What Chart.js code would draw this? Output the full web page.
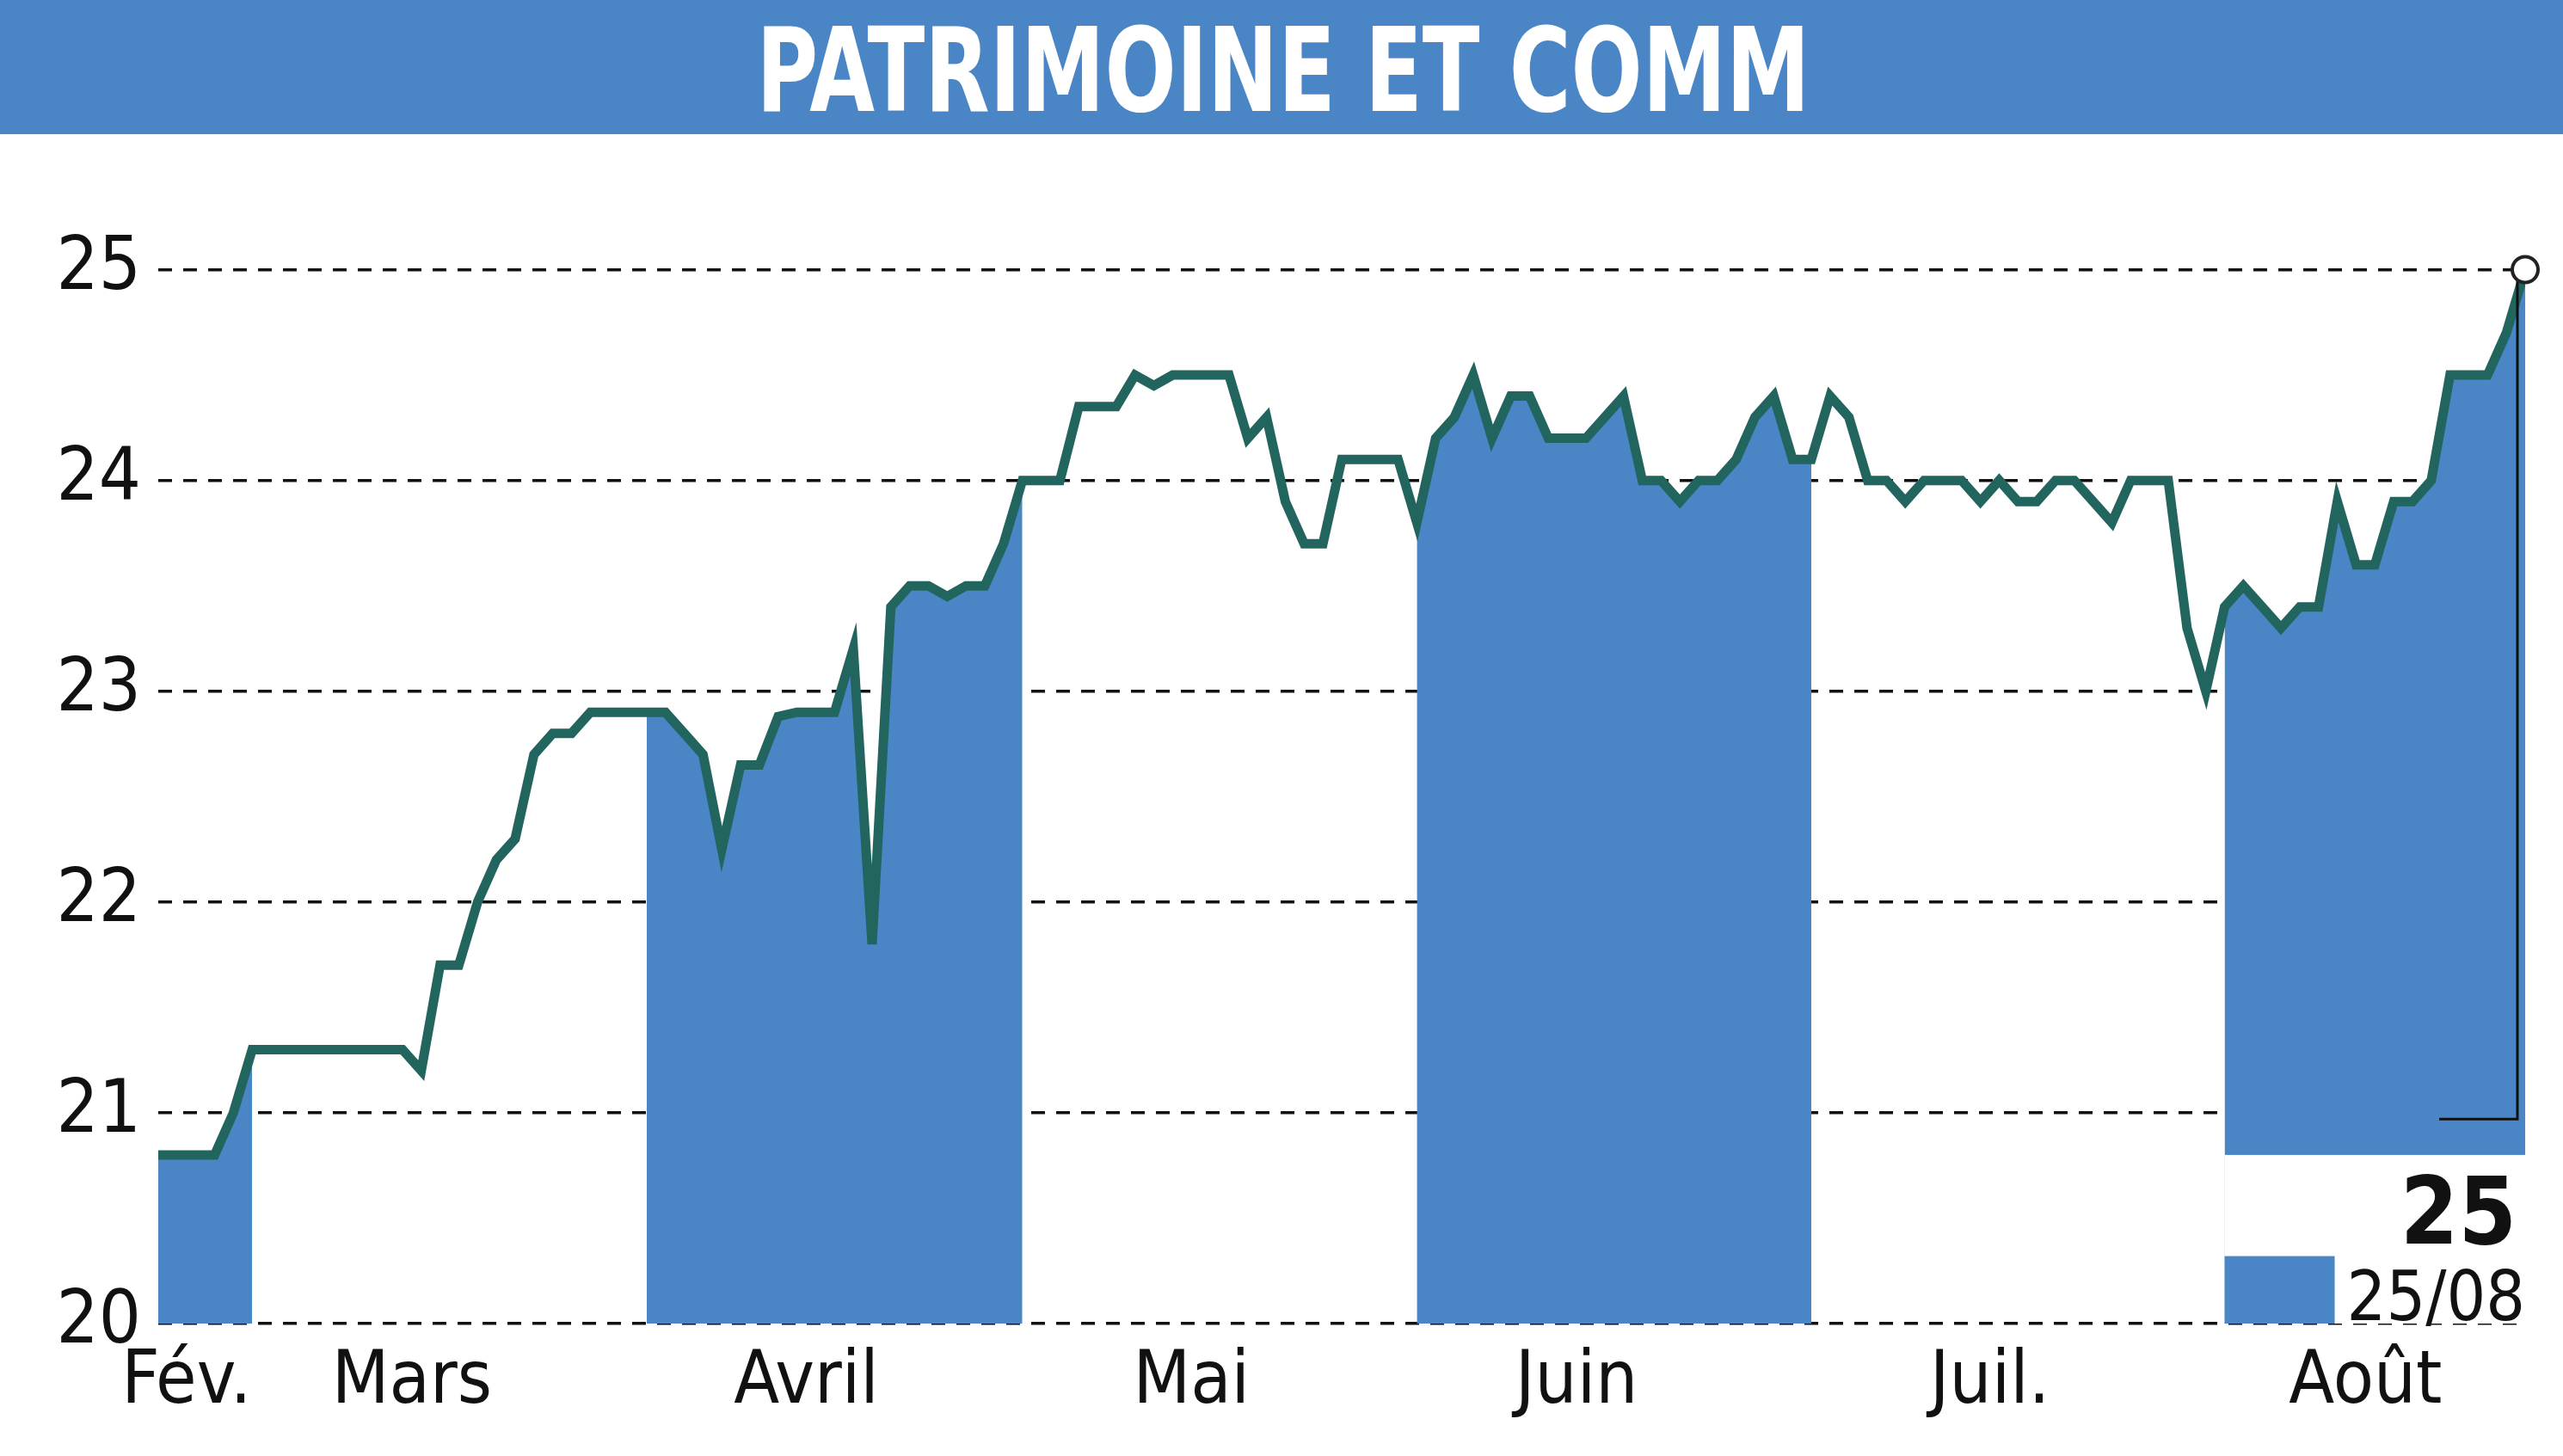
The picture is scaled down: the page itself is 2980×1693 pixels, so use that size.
<!DOCTYPE html>
<html><head><meta charset="utf-8">
<script src="https://cdn.jsdelivr.net/npm/chart.js@4/dist/chart.umd.min.js"></script>
<style>html,body{margin:0;padding:0;background:#fff}#wrap{width:2980px;height:1693px}</style>
</head><body><div id="wrap"><canvas id="c"></canvas></div>
<script>
const title = "PATRIMOINE ET COMM";
const prices = [20.8,20.8,20.8,20.8,21.0,21.3,21.3,21.3,21.3,21.3,21.3,21.3,21.3,21.3,21.2,21.7,21.7,22.0,22.2,22.3,22.7,22.8,22.8,22.9,22.9,22.9,22.9,22.9,22.8,22.7,22.25,22.65,22.65,22.88,22.9,22.9,22.9,23.2,21.8,23.4,23.5,23.5,23.45,23.5,23.5,23.7,24.0,24.0,24.0,24.35,24.35,24.35,24.5,24.45,24.5,24.5,24.5,24.5,24.2,24.3,23.9,23.7,23.7,24.1,24.1,24.1,24.1,23.8,24.2,24.3,24.5,24.2,24.4,24.4,24.2,24.2,24.2,24.3,24.4,24.0,24.0,23.9,24.0,24.0,24.1,24.3,24.4,24.1,24.1,24.4,24.3,24.0,24.0,23.9,24.0,24.0,24.0,23.9,24.0,23.9,23.9,24.0,24.0,23.9,23.8,24.0,24.0,24.0,23.3,23.0,23.4,23.5,23.4,23.3,23.4,23.4,23.9,23.6,23.6,23.9,23.9,24.0,24.5,24.5,24.5,24.7,25.0];
const shadedRanges = [[0,5],[26,46],[67,88],[110,126]];
const monthNames = ["Fév.","Mars","Avril","Mai","Juin","Juil.","Août"];
const monthPos = [1.5,13.5,34.5,55,75.5,97.5,117.5];
const yTicks = [20,21,22,23,24,25];
const lastValue = "25", lastDate = "25/08";

const FONT = "'Liberation Sans Narrow','DejaVu Sans Condensed',sans-serif";
const lineData = prices.map((v,i)=>({x:i,y:v}));
const shadeData = prices.map((v,i)=>({x:i,y: shadedRanges.some(r=>i>=r[0]&&i<=r[1]) ? v : null}));
const BLUE = "#4a86c5", LINE = "#22655f";

const deco = {
  id:'deco',
  beforeDraw(ch){
    const c=ch.ctx; c.save();
    c.fillStyle=BLUE; c.fillRect(0,0,2980,156);
    c.translate(1492,82); c.scale(0.8,1);
    c.fillStyle="#fff"; c.font="bold 136px "+FONT; c.textAlign="center"; c.textBaseline="middle";
    c.fillText(title,0,12);
    c.restore();
  },
  afterDatasetsDraw(ch){
    const c=ch.ctx, xs=ch.scales.x, ys=ch.scales.y; c.save();
    const n=prices.length-1, px=xs.getPixelForValue(n), py=ys.getPixelForValue(prices[n]);
    const bx=xs.getPixelForValue(shadedRanges[3][0]);
    const by=ys.getPixelForValue(20.8), bb=ys.getPixelForValue(20);
    c.fillStyle="#fff"; c.fillRect(bx,by,px-bx,bb-by);
    c.fillStyle=BLUE; c.fillRect(bx,ys.getPixelForValue(20.32),128,bb-ys.getPixelForValue(20.32));
    c.strokeStyle="#111"; c.lineWidth=3;
    const ty=ys.getPixelForValue(20.97);
    c.beginPath(); c.moveTo(px-9,py); c.lineTo(px-9,ty); c.lineTo(px-100,ty); c.stroke();
    c.fillStyle="#111"; c.textAlign="right"; c.textBaseline="alphabetic";
    c.font="bold 108px "+FONT; c.fillText(lastValue,px-10,ys.getPixelForValue(20.38));
    c.font="80px "+FONT; c.fillText(lastDate,px,bb-4);
    c.beginPath(); c.arc(px,py,15,0,Math.PI*2); c.fillStyle="#fff"; c.fill(); c.lineWidth=4; c.strokeStyle="#222"; c.stroke();
    c.restore();
  }
};

new Chart(document.getElementById('c'),{
  type:'line',
  data:{datasets:[
    {data:lineData,borderColor:LINE,borderWidth:11,pointRadius:0,tension:0,fill:false,order:0},
    {data:shadeData,borderWidth:0,borderColor:'rgba(0,0,0,0)',backgroundColor:BLUE,pointRadius:0,tension:0,fill:{value:20},spanGaps:false,order:1}
  ]},
  options:{
    responsive:true,maintainAspectRatio:false,animation:false,
    layout:{padding:{top:191,right:44,left:0,bottom:0}},
    plugins:{legend:{display:false},tooltip:{enabled:false}},
    scales:{
      x:{type:'linear',min:0,max:prices.length-1,
        afterBuildTicks:s=>{s.ticks=monthPos.map(v=>({value:v}));},
        afterFit:s=>{s.height=154;},
        grid:{display:false},border:{display:false},
        ticks:{autoSkip:false,maxRotation:0,padding:10,color:'#111',font:{family:FONT,size:86},
          callback:(v,i)=>monthNames[i]}},
      y:{min:20,max:25.5,
        afterBuildTicks:s=>{s.ticks=yTicks.map(v=>({value:v}));},
        afterFit:s=>{s.width=184;},
        border:{display:false,dash:[16,13]},
        grid:{color:'#111',lineWidth:3.5,tickLength:0,drawTicks:false},
        ticks:{padding:20,color:'#111',font:{family:FONT,size:86}}}
    }
  },
  plugins:[deco]
});
</script>
</body></html>
